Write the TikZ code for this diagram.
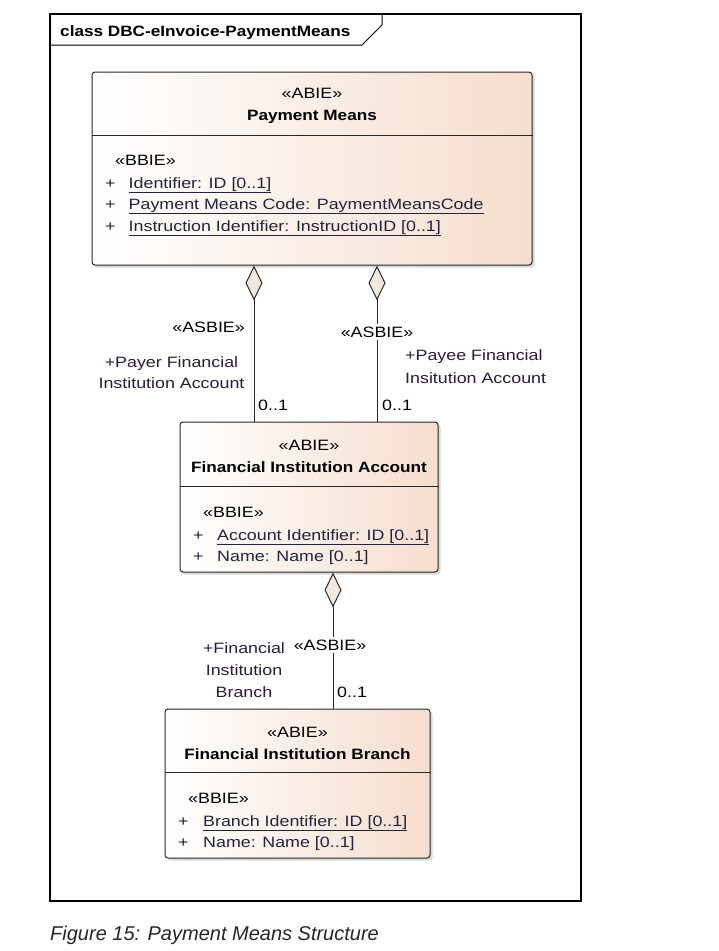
\documentclass[tikz,border=0pt]{standalone}
\usepackage{fontspec}
\setmainfont{Liberation Sans}[FakeStretch=1.19, BoldFeatures={FakeStretch=1.145}]
\newfontfamily\captionfont{Liberation Sans}
\usetikzlibrary{arrows.meta, shadows}

\definecolor{boxpeach}{RGB}{245,222,206}
\definecolor{diamondfill}{RGB}{242,232,222}
\definecolor{attrtext}{RGB}{35,35,60}
\definecolor{roletext}{RGB}{45,25,60}
\definecolor{edgegray}{RGB}{40,40,40}

\begin{document}
\fontsize{15}{18}\selectfont
\begin{tikzpicture}[
	x = 1pt, y = -1pt, % one unit is one pixel, y goes down
	every node/.style = {inner sep = 0pt},
	agg/.style = {{Diamond[length=35pt, width=17pt, fill=diamondfill]}-, draw = edgegray, line width = 1pt}, % aggregation
	]
	
	\tikzstyle{abie}=[
	draw = edgegray,
	line width = 1pt,
	rounded corners = 3pt,
	left color = white,
	right color = boxpeach,
	drop shadow = {shadow xshift = 2.5pt, shadow yshift = -2.5pt, opacity = 0.3}
	]
	\tikzstyle{stereo}=[anchor = base]
	\tikzstyle{classname}=[anchor = base, font = \bfseries]
	\tikzstyle{bbie}=[anchor = base west]
	\tikzstyle{attr}=[anchor = base west, text = attrtext]
	\tikzstyle{role}=[anchor = base, text = roletext]
	\tikzstyle{mult}=[anchor = base west]
	
	\useasboundingbox (0,0) rectangle (718,951);
	
	% frame
	\node[draw, line width = 1.6pt, minimum width = 531pt, minimum height = 887pt] (frm) at (315.5,457.5) {};
	\draw[line width = 1pt] (frm.north west |- 0,45) -- (362,45) -- (382,25) -- (382,0 |- frm.north);
	\node[anchor = base west, font = \bfseries] (frm-title) at (60,36) {class DBC-eInvoice-PaymentMeans};
	
	% classes
	\node[abie, minimum width = 440pt, minimum height = 193pt] (pm) at (312,168.5) {};
	\node[abie, minimum width = 258pt, minimum height = 150pt] (fia) at (309,497) {};
	\node[abie, minimum width = 265pt, minimum height = 149pt] (fib) at (297.5,783.5) {};
	
	\draw[edgegray, line width = 1pt] (pm.west |- 0,135) -- (pm.east |- 0,135);
	\draw[edgegray, line width = 1pt] (fia.west |- 0,486) -- (fia.east |- 0,486);
	\draw[edgegray, line width = 1pt] (fib.west |- 0,772) -- (fib.east |- 0,772);
	
	% Payment Means
	\node[stereo] (pm-st) at (312,98) {«ABIE»};
	\node[classname] (pm-name) at (312,120) {Payment Means};
	\node[bbie] (pm-bbie) at (115,165) {«BBIE»};
	\node[attr] (pm-p1) at (105,188) {+};
	\node[attr] (pm-a1) at (128.5,188) {\underline{Identifier: ID [0..1]}};
	\node[attr] (pm-p2) at (105,209) {+};
	\node[attr] (pm-a2) at (128.5,209) {\underline{Payment Means Code: PaymentMeansCode}};
	\node[attr] (pm-p3) at (105,231) {+};
	\node[attr] (pm-a3) at (128.5,231) {\underline{Instruction Identifier: InstructionID [0..1]}};
	
	% Financial Institution Account
	\node[stereo] (fia-st) at (309,450) {«ABIE»};
	\node[classname] (fia-name) at (309,472) {Financial Institution Account};
	\node[bbie] (fia-bbie) at (203,517) {«BBIE»};
	\node[attr] (fia-p1) at (193,540) {+};
	\node[attr] (fia-a1) at (217,540) {\underline{Account Identifier: ID [0..1]}};
	\node[attr] (fia-p2) at (193,561) {+};
	\node[attr] (fia-a2) at (217,561) {Name: Name [0..1]};
	
	% Financial Institution Branch
	\node[stereo] (fib-st) at (297.5,737) {«ABIE»};
	\node[classname] (fib-name) at (297.5,759) {Financial Institution Branch};
	\node[bbie] (fib-bbie) at (188,803) {«BBIE»};
	\node[attr] (fib-p1) at (178,826) {+};
	\node[attr] (fib-a1) at (203,826) {\underline{Branch Identifier: ID [0..1]}};
	\node[attr] (fib-p2) at (178,847) {+};
	\node[attr] (fib-a2) at (203,847) {Name: Name [0..1]};
	
	% associations
	\coordinate (payer) at (254,0);
	\coordinate (payee) at (377,0);
	\coordinate (branch) at (333,0);
	
	\draw[agg] (pm.south -| payer) -- (fia.north -| payer);
	\draw[agg] (pm.south -| payee) -- (fia.north -| payee);
	\draw[agg] (fia.south -| branch) -- (fib.north -| branch);
	
	\node[anchor = base east] (payer-st) at (245,332) {«ASBIE»};
	\node[role] (payer-r1) at (171.5,367) {+Payer Financial};
	\node[role] (payer-r2) at (171.5,388) {Institution Account};
	\node[mult] (payer-m) at (258,410) {0..1};
	
	\node[stereo, fill = white, inner sep = 2.5pt] (payee-st) at (377,337) {«ASBIE»};
	\node[role, anchor = base west] (payee-r1) at (405,360) {+Payee Financial};
	\node[role, anchor = base west] (payee-r2) at (405,383) {Insitution Account};
	\node[mult] (payee-m) at (382,410) {0..1};
	
	\node[stereo, fill = white, inner sep = 2.5pt] (branch-st) at (330,650) {«ASBIE»};
	\node[role] (branch-r1) at (244,653) {+Financial};
	\node[role] (branch-r2) at (244,675) {Institution};
	\node[role] (branch-r3) at (244,697) {Branch};
	\node[mult] (branch-m) at (337,697) {0..1};
	
	% caption
	\node[anchor = base west, text = black!85, font = \captionfont\itshape\fontsize{20}{24}\selectfont] (caption) at (50,940) {Figure 15: Payment Means Structure};
	
\end{tikzpicture}
\end{document}
